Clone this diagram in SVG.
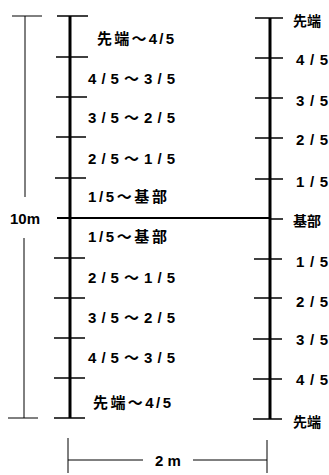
<svg xmlns="http://www.w3.org/2000/svg" width="329" height="475" viewBox="0 0 329 475">
<style>
.lbl{font-family:"Liberation Sans","Noto Sans CJK JP",sans-serif;font-weight:bold;font-size:15px;fill:#000}
.rl{font-family:"Liberation Sans","Noto Sans CJK JP",sans-serif;font-weight:bold;font-size:14px;fill:#000}
.pole{stroke:#000;stroke-width:3;fill:none}
.tick{stroke:#000;stroke-width:1.5;fill:none}
.dim{stroke:#000;stroke-width:1;fill:none}
</style>
<rect width="329" height="475" fill="#fff"/>
<g id="connectors">
  <line class="pole" x1="70" y1="16" x2="70" y2="418"/>
  <line class="pole" x1="270" y1="18" x2="270" y2="419" stroke-width="2.5"/>
  <line x1="57" y1="218" x2="270" y2="218" stroke="#000" stroke-width="2.2"/>
  <g class="tick">
    <line x1="57" y1="16" x2="88" y2="16"/>
    <line x1="56" y1="57" x2="88" y2="57"/>
    <line x1="56" y1="97" x2="87" y2="97"/>
    <line x1="56" y1="137" x2="86" y2="137"/>
    <line x1="55" y1="178" x2="86" y2="178"/>
    <line x1="54" y1="258" x2="85" y2="258"/>
    <line x1="54" y1="298" x2="85" y2="298"/>
    <line x1="54" y1="338" x2="85" y2="338"/>
    <line x1="54" y1="378" x2="85" y2="378"/>
    <line x1="54" y1="418" x2="85" y2="418"/>
    <line x1="255" y1="18" x2="283" y2="18"/>
    <line x1="255" y1="58" x2="283" y2="58"/>
    <line x1="255" y1="98" x2="283" y2="98"/>
    <line x1="255" y1="138" x2="283" y2="138"/>
    <line x1="255" y1="179" x2="283" y2="179"/>
    <line x1="270" y1="219" x2="283" y2="219"/>
    <line x1="254" y1="259" x2="282" y2="259"/>
    <line x1="254" y1="298" x2="282" y2="298"/>
    <line x1="253" y1="339" x2="282" y2="339"/>
    <line x1="253" y1="379" x2="282" y2="379"/>
    <line x1="253" y1="419" x2="282" y2="419"/>
  </g>
  <g class="dim">
    <line x1="12" y1="16" x2="42" y2="16"/>
    <line x1="25" y1="16" x2="25" y2="197"/>
    <line x1="24" y1="238" x2="24" y2="418"/>
    <line x1="8" y1="418" x2="38" y2="418"/>
    <line x1="68" y1="438" x2="68" y2="473"/>
    <line x1="68" y1="460" x2="143" y2="460"/>
    <line x1="193" y1="460" x2="267" y2="460"/>
    <line x1="267" y1="440" x2="267" y2="473"/>
  </g>
</g>
<g id="left-labels">
  <text class="lbl" x="97" y="44" textLength="77" lengthAdjust="spacing">先端～4/5</text>
  <text class="lbl" x="88" y="84" textLength="87" lengthAdjust="spacing">4/5～3/5</text>
  <text class="lbl" x="88" y="123" textLength="87" lengthAdjust="spacing">3/5～2/5</text>
  <text class="lbl" x="88" y="164" textLength="87" lengthAdjust="spacing">2/5～1/5</text>
  <text class="lbl" x="88" y="202" textLength="79" lengthAdjust="spacing">1/5～基部</text>
  <text class="lbl" x="88" y="242" textLength="79" lengthAdjust="spacing">1/5～基部</text>
  <text class="lbl" x="88" y="283" textLength="87" lengthAdjust="spacing">2/5～1/5</text>
  <text class="lbl" x="88" y="323" textLength="87" lengthAdjust="spacing">3/5～2/5</text>
  <text class="lbl" x="88" y="363" textLength="87" lengthAdjust="spacing">4/5～3/5</text>
  <text class="lbl" x="93" y="408" textLength="78" lengthAdjust="spacing">先端～4/5</text>
</g>
<g id="right-labels">
  <text class="rl" x="293" y="26">先端</text>
  <text class="lbl" x="296" y="65" textLength="32" lengthAdjust="spacing">4/5</text>
  <text class="lbl" x="296" y="106" textLength="32" lengthAdjust="spacing">3/5</text>
  <text class="lbl" x="296" y="145" textLength="32" lengthAdjust="spacing">2/5</text>
  <text class="lbl" x="296" y="187" textLength="32" lengthAdjust="spacing">1/5</text>
  <text class="rl" x="293" y="226">基部</text>
  <text class="lbl" x="296" y="267" textLength="32" lengthAdjust="spacing">1/5</text>
  <text class="lbl" x="296" y="307" textLength="32" lengthAdjust="spacing">2/5</text>
  <text class="lbl" x="296" y="345" textLength="32" lengthAdjust="spacing">3/5</text>
  <text class="lbl" x="296" y="385" textLength="32" lengthAdjust="spacing">4/5</text>
  <text class="rl" x="293" y="427">先端</text>
</g>
<g id="dimensions">
  <text class="lbl" x="10" y="224" font-size="14">10m</text>
  <text class="lbl" x="155" y="466">2 m</text>
</g>
</svg>
